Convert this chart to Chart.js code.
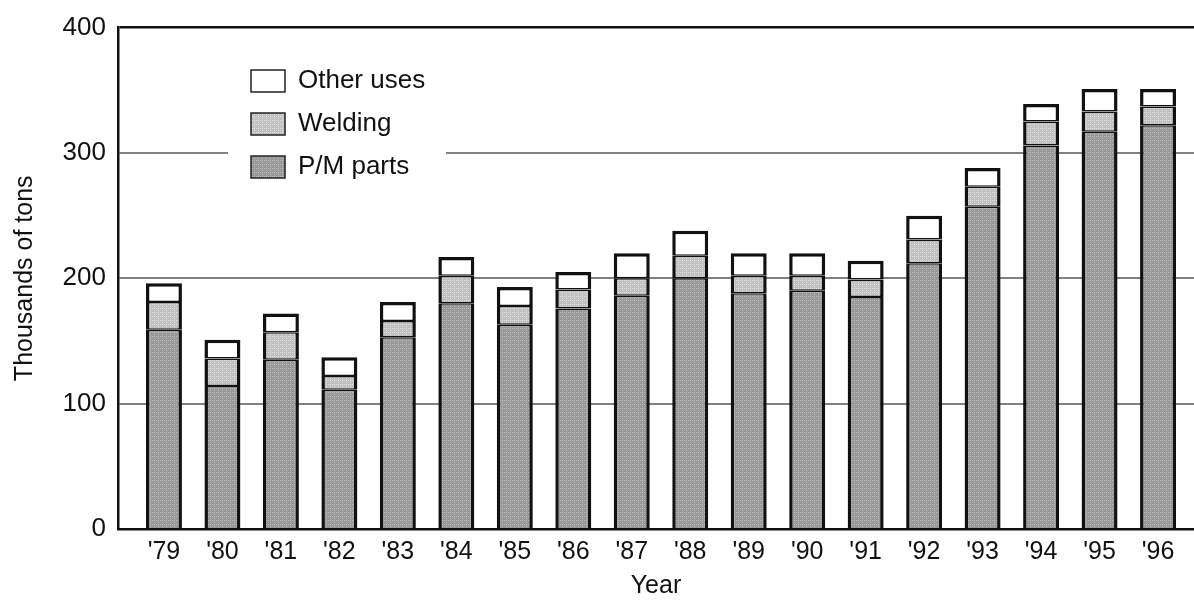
<!DOCTYPE html>
<html lang="en">
<head>
    <meta charset="UTF-8">
    <title>Iron powder shipments</title>
    <script src="https://cdn.jsdelivr.net/npm/chart.js"></script>
    <style>
        body {
            margin: 0;
            background-color: white;
        }
        #wrap {
            width: 1194px;
            height: 601px;
        }
    </style>
</head>
<body>
    <div id="wrap">
        <canvas id="powderChart" width="1194" height="601"></canvas>
    </div>

    <script>
        // data (thousands of tons)
        const years = ["'79", "'80", "'81", "'82", "'83", "'84", "'85", "'86", "'87",
                       "'88", "'89", "'90", "'91", "'92", "'93", "'94", "'95", "'96"];
        const pmParts = [159, 114, 135, 111, 153, 180, 163, 176, 186, 200, 188, 190, 185, 212, 257, 306, 317, 322];
        const welding = [22, 22, 22, 11, 13, 22, 15, 15, 14, 18, 14, 12, 14, 19, 16, 19, 16, 15];
        const otherUses = [15, 15, 15, 15, 15, 15, 15, 14, 20, 20, 18, 18, 15, 19, 15, 14, 18, 14];
        const yTicks = [0, 100, 200, 300, 400];

        const FONT = "'Liberation Sans', Arial, sans-serif";

        // small dotted fill like the printed halftone
        function makePattern(base, dot) {
            const c = document.createElement('canvas');
            c.width = 4;
            c.height = 4;
            const g = c.getContext('2d');
            g.fillStyle = base;
            g.fillRect(0, 0, 4, 4);
            g.fillStyle = dot;
            g.fillRect(0, 0, 1, 1);
            g.fillRect(2, 2, 1, 1);
            g.fillRect(2, 0, 1, 1);
            return g.createPattern(c, 'repeat');
        }
        const pmFill = makePattern('#989898', '#bebebe');
        const weldFill = makePattern('#c0c0c0', '#e2e2e2');

        const toPoints = arr => arr.map((v, i) => ({ x: i, y: v }));

        // legend sits inside the plot, on a white patch that cuts the 300 line
        const insideLegend = {
            id: 'insideLegend',
            afterDraw(chart) {
                const ctx = chart.ctx;
                ctx.save();
                ctx.fillStyle = '#fff';
                ctx.fillRect(228, 58, 218, 132);
                const items = chart.data.datasets.slice().reverse();
                items.forEach((ds, i) => {
                    const y = 70 + i * 43;
                    ctx.fillStyle = ds.backgroundColor;
                    ctx.fillRect(251, y, 34, 22);
                    ctx.strokeStyle = '#222';
                    ctx.lineWidth = 1.5;
                    ctx.strokeRect(251, y, 34, 22);
                    ctx.fillStyle = '#111';
                    ctx.font = '26px ' + FONT;
                    ctx.textBaseline = 'middle';
                    ctx.textAlign = 'left';
                    ctx.fillText(ds.label, 298, y + 11);
                });
                ctx.restore();
            }
        };

        const ctx = document.getElementById('powderChart').getContext('2d');

        const powderChart = new Chart(ctx, {
            type: 'bar',
            data: {
                datasets: [{
                    label: 'P/M parts',
                    data: toPoints(pmParts),
                    backgroundColor: pmFill,
                    borderWidth: { left: 3.5, right: 3.5, top: 1.5, bottom: 0 }
                }, {
                    label: 'Welding',
                    data: toPoints(welding),
                    backgroundColor: weldFill,
                    borderWidth: { left: 3.5, right: 3.5, top: 1.5, bottom: 1.5 }
                }, {
                    label: 'Other uses',
                    data: toPoints(otherUses),
                    backgroundColor: '#ffffff',
                    borderWidth: { left: 3.5, right: 3.5, top: 3.5, bottom: 1.5 }
                }]
            },
            options: {
                responsive: false,
                animation: false,
                layout: { padding: { top: 27, right: 0, left: 0, bottom: 0 } },
                datasets: {
                    bar: {
                        borderColor: '#111',
                        borderSkipped: false,
                        barPercentage: 0.615,
                        categoryPercentage: 1
                    }
                },
                plugins: {
                    legend: { display: false },
                    tooltip: { enabled: false }
                },
                scales: {
                    x: {
                        type: 'linear',
                        stacked: true,
                        offset: false,
                        min: -0.786,
                        max: 17.615,
                        afterFit: s => { s.height = 72; },
                        afterBuildTicks: s => { s.ticks = years.map((y, i) => ({ value: i })); },
                        grid: { display: false, drawTicks: false },
                        border: { color: '#111', width: 2.5 },
                        ticks: {
                            callback: v => years[v],
                            autoSkip: false,
                            maxRotation: 0,
                            padding: 8,
                            color: '#111',
                            font: { family: FONT, size: 25 }
                        },
                        title: {
                            display: true,
                            text: 'Year',
                            color: '#111',
                            padding: { top: 0, bottom: 0 },
                            font: { family: FONT, size: 25 }
                        }
                    },
                    y: {
                        stacked: true,
                        min: 0,
                        max: 400,
                        afterFit: s => { s.width = 118; },
                        afterBuildTicks: s => { s.ticks = yTicks.map(v => ({ value: v })); },
                        grid: {
                            drawTicks: false,
                            color: c => c.tick.value === 400 ? '#111' : '#808080',
                            lineWidth: c => c.tick.value === 400 ? 2.5 : 2
                        },
                        border: { color: '#111', width: 2.5 },
                        ticks: {
                            padding: 12,
                            color: '#111',
                            font: { family: FONT, size: 26 }
                        },
                        title: {
                            display: true,
                            text: 'Thousands of tons',
                            color: '#111',
                            padding: { top: 10, bottom: 0 },
                            font: { family: FONT, size: 25 }
                        }
                    }
                }
            },
            plugins: [insideLegend]
        });
    </script>
</body>
</html>
